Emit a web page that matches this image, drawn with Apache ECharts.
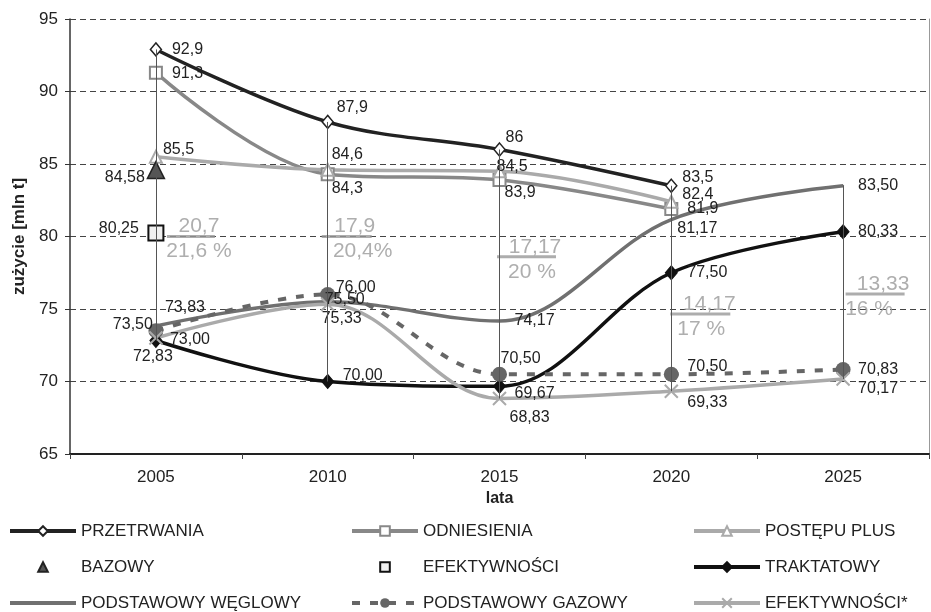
<!DOCTYPE html>
<html>
<head>
<meta charset="utf-8">
<script src="https://cdn.jsdelivr.net/npm/echarts@6/dist/echarts.min.js"></script>
<style>
html,body{margin:0;padding:0;background:#fff;}
#chart{width:931px;height:612px;}
</style>
</head>
<body>
<div id="chart"></div>
<script>
// ---- data ----
var years = ['2005', '2010', '2015', '2020', '2025'];
var yTicks = [65, 70, 75, 80, 85, 90, 95];

var przetrwania = [92.9, 87.9, 86, 83.5, null];
var odniesienia = [91.3, 84.3, 83.9, 81.9, null];
var postepuPlus = [85.5, 84.6, 84.5, 82.4, null];
var bazowy = [84.58, null, null, null, null];
var efektywnosci = [80.25, null, null, null, null];
var traktatowy = [72.83, 70.00, 69.67, 77.50, 80.33];
var podstWeglowy = [73.83, 75.50, 74.17, 81.17, 83.50];
var podstGazowy = [73.50, 76.00, 70.50, 70.50, 70.83];
var efektywnosciStar = [73.00, 75.33, 68.83, 69.33, 70.17];

var diffTop = ['20,7', '17,9', '17,17', '14,17', '13,33'];
var diffBottom = ['21,6 %', '20,4%', '20 %', '17 %', '16 %'];

var legendNames = [
  ['PRZETRWANIA', 'ODNIESIENIA', 'POSTĘPU PLUS'],
  ['BAZOWY', 'EFEKTYWNOŚCI', 'TRAKTATOWY'],
  ['PODSTAWOWY WĘGLOWY', 'PODSTAWOWY GAZOWY', 'EFEKTYWNOŚCI*']
];

// ---- layout (label placement, not data) ----
// [align, dx, dy]
var L = {
  przetrwania: [['left', 16, 0], ['left', 9, -14], ['left', 6, -12], ['left', 11, -8], null],
  odniesienia: [['left', 16, 1], ['left', 4, 14], ['left', 5, 13], ['left', 16, 0], null],
  postepuPlus: [['left', 7, -7], ['left', 4, -15], ['left', -3, -5], ['left', 11, -7], null],
  bazowy: [['right', -11, 8]],
  efektywnosci: [['right', -17, -4]],
  traktatowy: [['center', -3, 16], ['left', 15, -6], ['left', 15, 7], ['left', 16, 0], ['left', 15, 0]],
  podstWeglowy: [['left', 9, -18], ['left', -3, -2], ['left', 15, 0], ['left', 6, 9], ['left', 15, 0]],
  podstGazowy: [['right', -3, -6], ['left', 8, -7], ['left', 1, -16], ['left', 16, -8], ['left', 15, 0]],
  efektywnosciStar: [['left', 14, 2], ['left', -6, 14], ['left', 10, 19], ['left', 16, 11], ['left', 15, 10]]
};
// annotation placement: [lineValue, lineCenterOffset, lineWidth, textDx, topShift]
var annotLayout = [
  [80.0, 35, 48, 8, 0],
  [80.0, 19, 50, 12, -4],
  [78.6, 27, 59, 7, 1.5],
  [74.66, 29, 60, 5, 4],
  [76.03, 32, 59, 1, 7]
];
var legendLefts = [8, 350, 692];
var legendCenters = [531, 567, 603];

var FONT = 'Liberation Sans, Arial, sans-serif';

function fmt1(v) { return String(v).replace('.', ','); }
function fmt2(v) { return v.toFixed(2).replace('.', ','); }

function makeData(arr, layout, f) {
  return arr.map(function (v, i) {
    if (v === null) return null;
    var l = layout[i];
    return {
      value: v,
      label: {
        show: true,
        position: 'inside',
        align: l[0],
        verticalAlign: 'middle',
        offset: [l[1], l[2]],
        formatter: f(v)
      }
    };
  });
}

var labelBase = { color: '#222', fontSize: 16, fontFamily: FONT };

function lineSeries(name, arr, layout, f, opts) {
  var s = {
    name: name,
    type: 'line',
    data: makeData(arr, layout, f),
    smooth: 0.35,
    z: opts.z || 2,
    symbol: opts.symbol,
    symbolSize: opts.symbolSize,
    symbolKeepAspect: true,
    showAllSymbol: true,
    lineStyle: opts.lineStyle,
    itemStyle: opts.itemStyle,
    label: labelBase,
    emphasis: { disabled: true },
    silent: true
  };
  if (opts.markLine) s.markLine = opts.markLine;
  return s;
}

// drop lines: from max to min of all series at each year
var allSeries = [przetrwania, odniesienia, postepuPlus, bazowy, efektywnosci, traktatowy, podstWeglowy, podstGazowy, efektywnosciStar];
var dropLines = years.map(function (y, i) {
  var vals = allSeries.map(function (a) { return a[i]; }).filter(function (v) { return v !== null; });
  return [{ coord: [y, Math.max.apply(null, vals)] }, { coord: [y, Math.min.apply(null, vals)] }];
});

var annotData = years.map(function (y, i) {
  var a = annotLayout[i];
  var sh = a[4];
  var topPad = sh >= 0 ? [0, 0, 0, 2 * sh] : [0, -2 * sh, 0, 0];
  var botPad = sh >= 0 ? [0, 2 * sh, 0, 0] : [0, 0, 0, -2 * sh];
  return {
    value: [y, a[0]],
    symbolSize: [a[2], 3],
    symbolOffset: [a[1], 0],
    label: {
      show: true,
      position: 'inside',
      align: 'center',
      verticalAlign: 'middle',
      offset: [a[3], 2.5],
      formatter: '{t|' + diffTop[i] + '}\n{b|' + diffBottom[i] + '}',
      rich: {
        t: { fontSize: 21, lineHeight: 25, color: '#9a9a9a', padding: topPad, fontFamily: FONT },
        b: { fontSize: 21, lineHeight: 25, color: '#9a9a9a', padding: botPad, fontFamily: FONT }
      }
    }
  };
});

var xSym = 'path://M0,0L10,10M10,0L0,10';
var LW = 3.5;

var series = [
  lineSeries('PRZETRWANIA', przetrwania, L.przetrwania, fmt1, {
    symbol: 'diamond', symbolSize: [11, 13],
    lineStyle: { color: '#222', width: LW },
    itemStyle: { color: '#fff', borderColor: '#222', borderWidth: 1.5 },
    markLine: {
      silent: true, symbol: 'none', animation: false,
      label: { show: false },
      lineStyle: { color: '#555', width: 1, type: 'solid' },
      emphasis: { disabled: true },
      data: dropLines
    }
  }),
  lineSeries('ODNIESIENIA', odniesienia, L.odniesienia, fmt1, {
    symbol: 'rect', symbolSize: 12,
    lineStyle: { color: '#888', width: LW },
    itemStyle: { color: '#fff', borderColor: '#888', borderWidth: 2 }
  }),
  lineSeries('POSTĘPU PLUS', postepuPlus, L.postepuPlus, fmt1, {
    symbol: 'triangle', symbolSize: 12,
    lineStyle: { color: '#aaa', width: LW },
    itemStyle: { color: '#fff', borderColor: '#aaa', borderWidth: 2 }
  }),
  lineSeries('BAZOWY', bazowy, L.bazowy, fmt2, {
    symbol: 'triangle', symbolSize: 17, z: 3,
    lineStyle: { color: '#555', width: 0, opacity: 0 },
    itemStyle: { color: '#555', borderColor: '#222', borderWidth: 1.5 }
  }),
  lineSeries('EFEKTYWNOŚCI', efektywnosci, L.efektywnosci, fmt2, {
    symbol: 'rect', symbolSize: 15, z: 3,
    lineStyle: { color: '#111', width: 0, opacity: 0 },
    itemStyle: { color: '#f0f0f0', borderColor: '#111', borderWidth: 2 }
  }),
  lineSeries('TRAKTATOWY', traktatowy, L.traktatowy, fmt2, {
    symbol: 'diamond', symbolSize: [12, 14],
    lineStyle: { color: '#111', width: LW },
    itemStyle: { color: '#111', borderColor: '#111', borderWidth: 1 }
  }),
  lineSeries('PODSTAWOWY WĘGLOWY', podstWeglowy, L.podstWeglowy, fmt2, {
    symbol: 'circle', symbolSize: 2,
    lineStyle: { color: '#707070', width: LW },
    itemStyle: { color: '#707070', borderWidth: 0 }
  }),
  lineSeries('PODSTAWOWY GAZOWY', podstGazowy, L.podstGazowy, fmt2, {
    symbol: 'circle', symbolSize: 15,
    lineStyle: { color: '#666', width: 4, type: [8, 10] },
    itemStyle: { color: '#666', borderWidth: 0 }
  }),
  lineSeries('EFEKTYWNOŚCI*', efektywnosciStar, L.efektywnosciStar, fmt2, {
    symbol: xSym, symbolSize: 13,
    lineStyle: { color: '#aaa', width: LW },
    itemStyle: { color: '#aaa', borderColor: '#aaa', borderWidth: 2 }
  }),
  {
    name: 'annot',
    type: 'scatter',
    symbol: 'rect',
    itemStyle: { color: '#999' },
    data: annotData,
    z: 4,
    silent: true,
    emphasis: { disabled: true }
  }
];

var legends = [];
legendNames.forEach(function (row, r) {
  row.forEach(function (name, c) {
    var item = { name: name };
    if (name === 'PODSTAWOWY WĘGLOWY') item.itemStyle = { opacity: 0 };
    legends.push({
      orient: 'horizontal',
      left: legendLefts[c],
      top: legendCenters[r] - 9,
      padding: 0,
      itemWidth: 66, itemHeight: 12, itemGap: 0,
      selectedMode: false,
      textStyle: { fontSize: 17, color: '#222', fontFamily: FONT, lineHeight: 18 },
      lineStyle: { width: 4 },
      data: [item]
    });
  });
});

var option = {
  animation: false,
  backgroundColor: '#fff',
  textStyle: { fontFamily: FONT },
  grid: { left: 70, right: 2, top: 19, bottom: 158, containLabel: false },
  legend: legends,
  xAxis: {
    type: 'category',
    data: years,
    boundaryGap: true,
    name: 'lata',
    nameLocation: 'middle',
    nameGap: 30,
    nameTextStyle: { fontSize: 16, fontWeight: 'bold', color: '#222' },
    axisLine: { show: true, lineStyle: { color: '#222', width: 2 } },
    axisTick: { show: true, length: 5, lineStyle: { color: '#444', width: 1 } },
    axisLabel: { fontSize: 17, color: '#222', margin: 15 },
    splitLine: { show: false }
  },
  yAxis: [{
    type: 'value',
    min: yTicks[0], max: yTicks[yTicks.length - 1], interval: 5,
    name: 'zużycie [mln t]',
    nameLocation: 'middle',
    nameGap: 39,
    nameRotate: 90,
    nameTextStyle: { fontSize: 17, fontWeight: 'bold', color: '#222' },
    axisLine: { show: true, lineStyle: { color: '#333', width: 1.5 } },
    axisTick: { show: true, length: 5, lineStyle: { color: '#333', width: 1 } },
    axisLabel: { fontSize: 17, color: '#222', margin: 12 },
    splitLine: { show: true, lineStyle: { color: '#444', width: 1, type: [6, 4] } }
  }, {
    type: 'value', position: 'right',
    min: yTicks[0], max: yTicks[yTicks.length - 1], interval: 5,
    axisLine: { show: true, lineStyle: { color: '#999', width: 1 } },
    axisTick: { show: false }, axisLabel: { show: false }, splitLine: { show: false }
  }],
  series: series
};

var chart = echarts.init(document.getElementById('chart'), null, { renderer: 'canvas' });
chart.setOption(option);
</script>
</body>
</html>
